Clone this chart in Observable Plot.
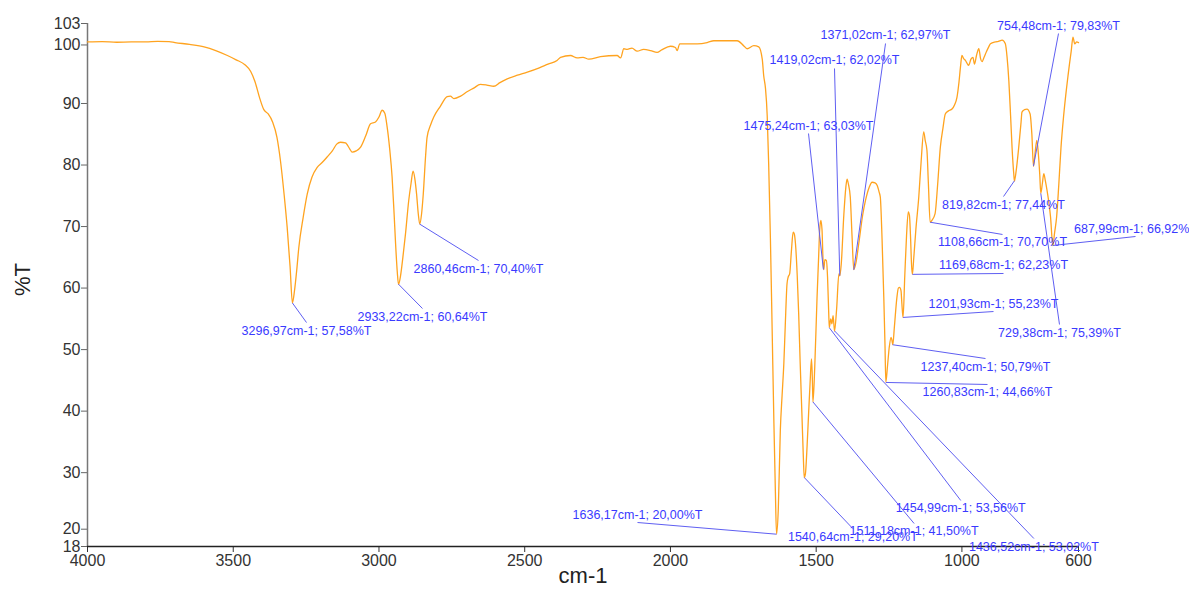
<!DOCTYPE html>
<html>
<head>
<meta charset="utf-8">
<script src="https://cdn.jsdelivr.net/npm/d3@7"></script>
<script src="https://cdn.jsdelivr.net/npm/@observablehq/plot@0.6"></script>
<style>
  html, body { margin: 0; padding: 0; background: #fff; }
  #chart svg { display: block; }
</style>
</head>
<body>
<div id="chart"></div>
<script>
// Spectrum (wavenumber in cm-1, transmittance in %T)
const wavenumber = [
  4000,3950,3900,3850,3800,3760,3720,3700,3650,3600,3560,3520,3490,3460,3440,3425,3410,3395,3380,3365,
  3350,3338,3325,3315,3305,3297,3290,3282,3275,3260,3246,3230,3212,3195,3178,3160,3145,3132,3115,3100,
  3092,3078,3063,3045,3029,3012,3000,2989,2980,2972,2963,2955,2948,2943,2937,2933,2926,2918,2909,2898,
  2890,2883,2877,2871,2865,2860,2854,2848,2840,2835,2823,2812,2790,2766,2755,2743,2720,2698,2675,2652,
  2630,2606,2585,2560,2525,2491,2450,2420,2389,2377,2343,2320,2300,2280,2240,2183,2171,2160,2148,2132,
  2114,2092,2068,2046,2030,2000,1983,1977,1968,1943,1908,1874,1851,1771,1749,1737,1714,1697,1685,1680,
  1674,1668,1663,1657,1651,1645,1640,1636,1630,1623,1617,1611,1606,1600,1596,1591,1585,1579,1575,1571,
  1565,1560,1555,1549,1544,1541,1537,1531,1526,1521,1516,1513,1511,1505,1497,1492,1488,1484,1480,1476,
  1474,1470,1465,1461,1457,1455,1450,1446,1442,1437,1430,1422,1419,1414,1405,1398,1394,1389,1383,1377,
  1371,1364,1354,1340,1331,1318,1308,1298,1291,1284,1280,1274,1268,1264,1261,1255,1249,1243,1240,1237,
  1232,1223,1218,1214,1209,1206,1202,1196,1190,1184,1180,1176,1173,1170,1165,1158,1148,1140,1131,1126,
  1120,1115,1109,1103,1092,1083,1074,1065,1057,1046,1034,1025,1017,1010,1005,1000,994,988,982,977,
  969,962,957,950,942,936,931,924,916,908,902,885,875,862,851,845,839,833,828,822,
  819.8,814,805,797,794,785,777,766,760,754.5,750,743,738,733,729.4,724,719,714,708,702,
  696,688,682,675,668,660,651,642,636,631,625,619,613,606,600
];
const transmittance = [
  100.0,100.05,99.95,100.0,100.0,100.1,100.05,99.9,99.6,99.2,98.6,97.8,97.1,96.3,95.2,93.5,91.0,89.0,88.3,87.0,
  84.5,80.7,75.0,69.9,63.5,57.6,59.5,63.0,66.6,71.5,75.3,78.0,79.6,80.4,81.3,82.3,83.4,83.7,83.6,82.6,
  82.1,82.3,82.9,84.8,86.7,87.0,87.8,88.9,88.4,86.2,82.5,78.1,72.0,67.2,62.5,60.6,62.0,65.0,68.8,74.2,
  77.0,79.0,77.8,75.3,72.0,70.4,72.0,75.3,81.5,84.5,86.5,87.8,89.5,91.1,91.2,90.8,91.2,91.9,92.5,93.1,
  93.0,92.8,93.4,94.0,94.6,95.1,95.8,96.4,97.0,97.5,97.8,97.4,97.5,97.2,97.6,97.8,97.4,98.9,98.8,99.0,
  98.5,98.8,98.6,98.3,98.7,99.3,99.1,98.6,99.7,99.7,99.7,99.9,100.2,100.2,99.4,98.9,99.4,99.2,97.2,94.5,
  92.5,88.0,80.2,68.0,53.1,38.0,27.0,20.0,24.0,36.9,42.5,47.7,54.0,60.7,61.8,62.3,66.0,69.1,68.8,67.2,
  62.0,55.8,48.0,39.6,32.5,29.2,29.8,34.5,39.6,44.5,48.5,45.0,41.5,47.0,58.5,64.5,69.4,71.0,69.5,64.0,
  63.0,64.6,64.5,61.8,56.0,53.6,55.0,54.2,55.5,53.0,56.5,62.3,62.0,63.9,72.0,76.5,77.7,76.8,74.8,68.5,
  63.0,64.0,67.2,72.0,74.2,76.4,77.2,77.1,76.7,75.6,74.8,68.0,58.5,51.0,44.7,47.5,50.5,52.0,51.5,50.8,
  53.5,58.5,60.0,60.1,59.6,57.5,55.2,62.0,68.5,72.4,71.8,68.0,64.0,62.2,65.0,69.5,74.8,80.5,85.4,84.0,
  82.4,77.0,70.7,71.0,72.1,77.0,82.9,86.0,88.3,88.8,89.1,89.8,91.0,93.5,95.9,97.8,97.3,97.0,96.5,96.2,
  97.2,97.5,96.4,97.8,98.9,97.3,96.8,97.5,98.4,99.2,99.7,100.0,100.1,100.3,99.7,97.5,93.7,88.0,82.9,78.5,
  77.4,79.0,82.9,87.0,88.6,89.0,89.1,88.3,85.0,79.8,81.5,84.0,82.0,78.5,75.4,77.0,78.6,77.5,75.9,74.0,
  71.6,66.9,69.0,71.6,76.5,82.9,88.0,92.1,94.5,96.4,98.5,100.8,99.7,100.0,99.9
];

// Peak picks (reported values)
const peakWn = [3296.97,2933.22,2860.46,1636.17,1540.64,1511.18,1454.99,1436.52,1475.24,1419.02,
                1371.02,1260.83,1237.40,1201.93,1169.68,1108.66,819.82,754.48,729.38,687.99];
const peakT  = [57.58,60.64,70.40,20.00,29.20,41.50,53.56,53.02,63.03,62.02,
                62.97,44.66,50.79,55.23,62.23,70.70,77.44,79.83,75.39,66.92];
// Where each leader line ends (label anchor), in data units
const labelWn = [3248.6,2850.7,2658.5,2113,1374,1164,1004,753,1526.3,1437.1,
                 1262.1,912.2,919.1,891.6,857.3,860.7,857.3,668.6,665.2,404.4];
const labelT  = [54.40,56.68,64.48,21.90,20.9,21.74,25.48,19.30,85.12,95.69,
                 99.75,44.33,48.55,56.19,62.37,68.71,74.88,101.37,54.08,68.38];

const xTicks = [4000,3500,3000,2500,2000,1500,1000,600];
const yTicks = [18,30,40,50,60,70,80,90,103];

const spectrum = wavenumber.map((w, i) => ({w, t: transmittance[i]}));
const fmt = v => v.toFixed(2).replace(".", ",");
const peaks = peakWn.map((w, i) => ({
  w, t: peakT[i], lw: labelWn[i], lt: labelT[i],
  text: `${fmt(w)}cm-1; ${fmt(peakT[i])}%T`,
  below: labelT[i] < peakT[i]
}));

const blue = "#3a3aff";
const lineBlue = "#5f5ff2";
const axisFont = 16;

const chart = Plot.plot({
  width: 1189,
  height: 592,
  marginLeft: 87,
  marginRight: 111,
  marginTop: 23,
  marginBottom: 46,
  style: {fontFamily: "Arial, 'Liberation Sans', sans-serif", background: "#fff"},
  x: {domain: [4000, 600]},
  y: {domain: [18, 103]},
  marks: [
    Plot.axisX({ticks: xTicks, tickSize: 6, tickPadding: 2, fontSize: axisFont, label: null, color: "#333", tickFormat: d => String(d)}),
    Plot.axisY({ticks: yTicks, tickSize: 6, tickPadding: 1, fontSize: axisFont, label: null, color: "#333", stroke: "#666"}),
    Plot.axisY({ticks: [100], tickSize: 6, tickPadding: 1, fontSize: axisFont, label: null, color: "#333", stroke: "#666", dy: 3}),
    Plot.axisY({ticks: [20], tickSize: 6, tickPadding: 1, fontSize: axisFont, label: null, color: "#333", stroke: "#666", dy: -5}),
    Plot.ruleX([4000], {stroke: "#777", strokeWidth: 1.5}),
    Plot.ruleY([18], {stroke: "#222", strokeWidth: 1.3}),
    Plot.text(["cm-1"], {frameAnchor: "bottom", dy: 36, fontSize: 22, fill: "#222"}),
    Plot.text(["%T"], {frameAnchor: "left", dx: -65, dy: 11, rotate: -90, fontSize: 22, fill: "#222"}),
    Plot.line(spectrum, {x: "w", y: "t", stroke: "#ffa31f", strokeWidth: 1.3, curve: "monotone-x"}),
    Plot.link(peaks, {x1: "w", y1: "t", x2: "lw", y2: "lt", stroke: lineBlue, strokeWidth: 1, clip: false}),
    Plot.text(peaks.filter(d => d.below), {x: "lw", y: "lt", text: "text", dy: 8, fill: blue, fontSize: 12.5, textAnchor: "middle"}),
    Plot.text(peaks.filter(d => !d.below), {x: "lw", y: "lt", text: "text", dy: -8, fill: blue, fontSize: 12.5, textAnchor: "middle"})
  ]
});
document.getElementById("chart").appendChild(chart);
</script>
</body>
</html>
